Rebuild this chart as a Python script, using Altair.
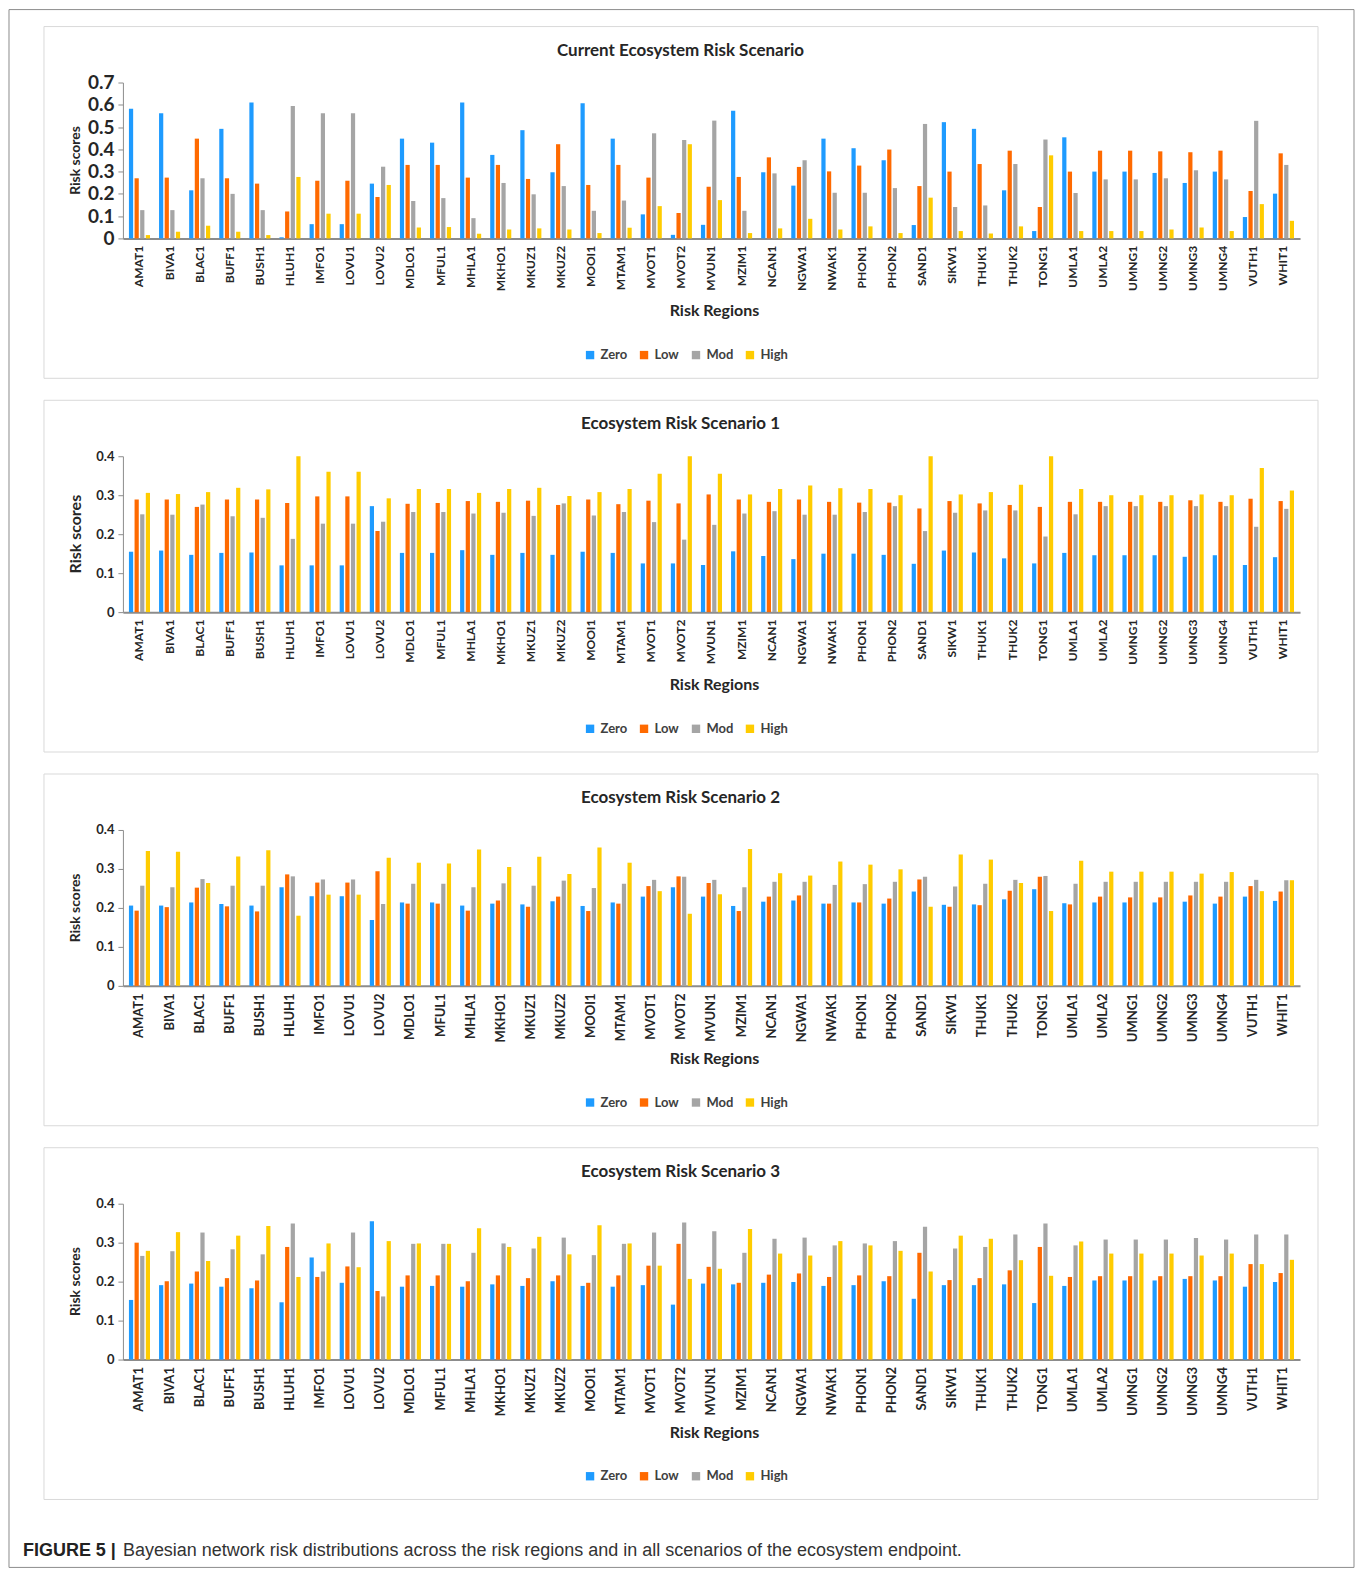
import altair as alt
import pandas as pd

regions = ["AMAT1", "BIVA1", "BLAC1", "BUFF1", "BUSH1", "HLUH1", "IMFO1", "LOVU1", "LOVU2",
           "MDLO1", "MFUL1", "MHLA1", "MKHO1", "MKUZ1", "MKUZ2", "MOOI1", "MTAM1", "MVOT1",
           "MVOT2", "MVUN1", "MZIM1", "NCAN1", "NGWA1", "NWAK1", "PHON1", "PHON2", "SAND1",
           "SIKW1", "THUK1", "THUK2", "TONG1", "UMLA1", "UMLA2", "UMNG1", "UMNG2", "UMNG3",
           "UMNG4", "VUTH1", "WHIT1"]
series_names = ["Zero", "Low", "Mod", "High"]
series_colors = ["#1E9BFF", "#FF6A00", "#A5A5A5", "#FFCC00"]

panel_titles = ["Current Ecosystem Risk Scenario", "Ecosystem Risk Scenario 1",
                "Ecosystem Risk Scenario 2", "Ecosystem Risk Scenario 3"]
y_max = [0.7, 0.4, 0.4, 0.4]

# Current scenario
cur_zero = [.582, .562, .216, .492, .610, .005, .064, .064, .246, .448, .430, .610, .375, .486, .297, .607, .448, .108, .016, .061, .573, .297, .237, .448, .405, .351, .060, .522, .492, .216, .033, .454, .300, .300, .294, .249, .300, .096, .201]
cur_low = [.270, .273, .448, .270, .246, .121, .259, .259, .186, .330, .330, .273, .330, .267, .423, .240, .330, .273, .114, .232, .276, .364, .321, .301, .327, .399, .235, .300, .334, .394, .141, .300, .394, .394, .391, .387, .394, .213, .382]
cur_mod = [.127, .127, .270, .200, .127, .595, .562, .562, .322, .168, .181, .091, .249, .198, .235, .124, .170, .472, .442, .529, .124, .292, .351, .205, .205, .226, .514, .141, .148, .334, .444, .204, .265, .265, .270, .306, .265, .528, .330]
cur_high = [.015, .030, .057, .030, .015, .276, .111, .111, .240, .049, .051, .021, .040, .045, .040, .024, .048, .145, .423, .172, .024, .045, .088, .040, .054, .024, .183, .033, .022, .054, .373, .033, .033, .033, .040, .049, .033, .154, .079]

# Scenario 1
s1_zero = [.155, .158, .147, .152, .153, .120, .120, .120, .272, .152, .152, .159, .147, .152, .147, .155, .152, .125, .125, .121, .156, .144, .136, .150, .150, .147, .124, .158, .153, .138, .125, .152, .146, .146, .146, .142, .146, .121, .141]
s1_low = [.289, .289, .270, .289, .289, .280, .297, .297, .208, .278, .280, .285, .283, .286, .275, .289, .277, .286, .279, .302, .289, .283, .289, .283, .281, .281, .266, .285, .279, .275, .270, .283, .283, .283, .283, .287, .283, .291, .285]
s1_mod = [.251, .250, .276, .246, .242, .188, .227, .227, .232, .257, .257, .253, .255, .247, .279, .248, .257, .231, .186, .224, .253, .259, .250, .250, .257, .272, .208, .255, .261, .261, .194, .251, .272, .272, .272, .272, .272, .219, .265]
s1_high = [.306, .303, .308, .319, .315, .400, .360, .360, .292, .316, .316, .306, .316, .319, .298, .308, .316, .355, .400, .355, .302, .316, .325, .318, .316, .300, .400, .302, .308, .327, .400, .316, .300, .300, .300, .302, .300, .370, .312]

# Scenario 2
s2_zero = [.206, .206, .214, .210, .206, .253, .230, .230, .169, .214, .214, .206, .211, .209, .217, .205, .214, .229, .253, .229, .205, .216, .219, .211, .214, .211, .242, .208, .209, .222, .248, .212, .214, .214, .214, .216, .211, .229, .218]
s2_low = [.193, .202, .252, .204, .191, .286, .265, .265, .294, .211, .211, .193, .219, .203, .229, .192, .211, .256, .281, .264, .192, .229, .232, .211, .214, .224, .273, .203, .207, .244, .280, .209, .229, .227, .227, .232, .229, .256, .242]
s2_mod = [.257, .253, .274, .257, .257, .281, .273, .273, .210, .262, .262, .253, .263, .257, .270, .251, .262, .272, .280, .272, .253, .267, .267, .259, .261, .267, .280, .255, .262, .272, .282, .262, .267, .267, .267, .267, .267, .272, .271]
s2_high = [.346, .344, .264, .332, .348, .180, .234, .234, .329, .316, .314, .350, .305, .331, .287, .355, .316, .243, .185, .235, .351, .289, .283, .319, .311, .299, .203, .337, .324, .264, .192, .321, .293, .293, .293, .288, .292, .243, .271]

# Scenario 3
s3_zero = [.153, .191, .195, .187, .183, .147, .262, .197, .355, .187, .189, .187, .193, .189, .201, .189, .187, .191, .141, .195, .193, .197, .199, .189, .191, .201, .156, .191, .191, .193, .145, .189, .203, .203, .203, .207, .203, .187, .199]
s3_low = [.300, .201, .226, .209, .203, .289, .212, .239, .176, .216, .216, .201, .216, .209, .216, .197, .216, .241, .297, .238, .197, .218, .221, .212, .216, .214, .274, .204, .209, .229, .289, .212, .214, .214, .214, .214, .214, .245, .222]
s3_mod = [.266, .278, .326, .283, .270, .349, .226, .326, .162, .297, .297, .274, .298, .285, .313, .268, .297, .326, .352, .329, .274, .310, .313, .293, .298, .304, .341, .285, .289, .321, .349, .293, .308, .308, .308, .312, .308, .321, .321]
s3_high = [.279, .327, .253, .318, .343, .212, .298, .237, .304, .298, .297, .337, .289, .315, .270, .345, .298, .241, .207, .233, .335, .272, .267, .304, .293, .279, .226, .318, .310, .255, .215, .303, .272, .272, .272, .267, .272, .245, .256]

x_title = "Risk Regions"
y_title = "Risk scores"
caption_bold = "FIGURE 5 |"
caption_text = "Bayesian network risk distributions across the risk regions and in all scenarios of the ecosystem endpoint."

panels_data = [
    (cur_zero, cur_low, cur_mod, cur_high),
    (s1_zero, s1_low, s1_mod, s1_high),
    (s2_zero, s2_low, s2_mod, s2_high),
    (s3_zero, s3_low, s3_mod, s3_high),
]
for p in panels_data:
    for arr in p:
        if len(arr) != len(regions):
            raise ValueError("length mismatch %d" % len(arr))

FONT = "Lato"
W = 1178
H = 156
ytick_size = [19, 13, 13, 13]
ytitle_size = [14, 16, 14, 14]
xlabel_size = [12, 12, 13, 13]


def make_panel(i):
    rows = []
    for s, vals in zip(series_names, panels_data[i]):
        for r, v in zip(regions, vals):
            rows.append({"region": r, "series": s, "value": v})
    df = pd.DataFrame(rows)
    ymax = y_max[i]
    ticks = [round(k * 0.1, 1) for k in range(int(round(ymax * 10)) + 1)]

    bars = alt.Chart(df).mark_bar().encode(
        x=alt.X("region:N", sort=regions,
                scale=alt.Scale(paddingInner=0.3, paddingOuter=0.2),
                axis=alt.Axis(title=None, labelAngle=270, labelFont=FONT,
                              labelFontWeight="bold", labelFontSize=xlabel_size[i],
                              labelColor="#262626", ticks=False, domainColor="#8c8c8c",
                              domainWidth=2, labelPadding=7)),
        xOffset=alt.XOffset("series:N", sort=series_names,
                            scale=alt.Scale(paddingInner=0.25)),
        y=alt.Y("value:Q", scale=alt.Scale(domain=[0, ymax], nice=False),
                axis=alt.Axis(title=None, values=ticks, grid=False,
                              labelExpr="datum.value == 0 ? '0' : format(datum.value, '.1f')",
                              labelFont=FONT, labelFontWeight="bold",
                              labelFontSize=ytick_size[i], labelColor="#262626",
                              domainColor="#8c8c8c", tickColor="#8c8c8c", tickSize=5,
                              labelPadding=4)),
        color=alt.Color("series:N", sort=series_names,
                        scale=alt.Scale(domain=series_names, range=series_colors),
                        legend=alt.Legend(title=None, orient="none", legendX=461, legendY=266,
                                          direction="horizontal", symbolType="square",
                                          symbolSize=70, symbolStrokeWidth=0,
                                          labelFont=FONT, labelFontSize=13,
                                          labelFontWeight="bold", labelColor="#404040",
                                          columnPadding=10, labelOffset=4)),
    )

    one = pd.DataFrame({"k": [0]})
    frame = alt.Chart(one).mark_rect(filled=False, stroke="#d9d9d9", strokeWidth=1).encode(
        x=alt.value(-79), x2=alt.value(1196), y=alt.value(-56), y2=alt.value(296))

    title = alt.Chart(pd.DataFrame({"t": [panel_titles[i]]})).mark_text(
        font=FONT, fontSize=17, fontWeight="bold", color="#262626", baseline="middle",
        align="center").encode(text="t:N", x=alt.value(558), y=alt.value(-32))

    xt = alt.Chart(pd.DataFrame({"t": [x_title]})).mark_text(
        font=FONT, fontSize=16, fontWeight="bold", color="#262626", baseline="middle",
        align="center").encode(text="t:N", x=alt.value(592), y=alt.value(229))

    yt = alt.Chart(pd.DataFrame({"t": [y_title]})).mark_text(
        font=FONT, fontSize=ytitle_size[i], fontWeight="bold", color="#262626",
        baseline="middle", align="center", angle=270).encode(
        text="t:N", x=alt.value(-47), y=alt.value(78))

    layers = [frame, bars, title, xt, yt]

    if i == 0:
        outer = alt.Chart(one).mark_rect(filled=False, stroke="#8c8c8c", strokeWidth=1).encode(
            x=alt.value(-114), x2=alt.value(1232), y=alt.value(-73), y2=alt.value(1486))
        layers.insert(0, outer)
    if i == 3:
        cap1 = alt.Chart(pd.DataFrame({"t": [caption_bold]})).mark_text(
            font="Liberation Sans", fontSize=18, fontWeight="bold", color="#222222",
            baseline="middle", align="left").encode(
            text="t:N", x=alt.value(-100), y=alt.value(348))
        cap2 = alt.Chart(pd.DataFrame({"t": [caption_text]})).mark_text(
            font="Liberation Sans", fontSize=18, color="#333333",
            baseline="middle", align="left").encode(
            text="t:N", x=alt.value(0), y=alt.value(348))
        layers += [cap1, cap2]

    return alt.layer(*layers).properties(width=W, height=H)


chart = alt.vconcat(*[make_panel(i) for i in range(4)], spacing=218, bounds="flush").resolve_scale(
    color="independent").properties(padding=0).configure_view(stroke=None)

chart.save("out.html", embed_options={"renderer": "svg", "actions": False})
